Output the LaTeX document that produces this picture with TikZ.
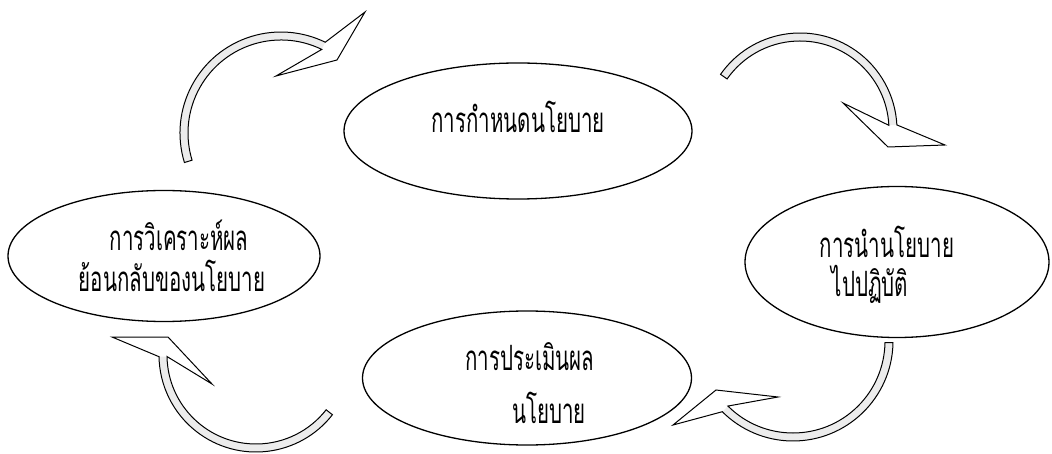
\documentclass[tikz,border=0pt]{standalone}
\usepackage{fontspec}
\newfontfamily\thaifont[Script=Thai]{Loma}
\usetikzlibrary{shapes.geometric,calc}
\newcommand\tallthai[1]{\scalebox{1}[1.7]{#1}}
\begin{document}
\begin{tikzpicture}[x=1pt,y=-1pt,
  bubble/.style={ellipse, draw=black, line width=1.3pt, inner sep=0pt, fill=white},
  thai/.style={font=\thaifont\fontsize{20.5}{24}\selectfont, anchor=base, inner sep=0pt},
  bandfill/.style={fill=gray!15, draw=none},
  arrowline/.style={draw=black, line width=1pt, line join=miter}]
\useasboundingbox (0,0) rectangle (1052,454);

% ellipses
\node[bubble, minimum width=348pt, minimum height=136pt] (plan) at (518,131) {};
\node[bubble, minimum width=312pt, minimum height=131pt] (feedback) at (164,256) {};
\node[bubble, minimum width=304pt, minimum height=151pt] (implement) at (897,262) {};
\node[bubble, minimum width=329pt, minimum height=134pt] (evaluate) at (527,378) {};

% texts
\node[thai] (t1) at (518,133) {\tallthai{การกำหนดนโยบาย}};
\node[thai] (t2a) at (179,251) {\tallthai{การวิเคราะห์ผล}};
\node[thai] (t2b) at (172,291) {\tallthai{ย้อนกลับของนโยบาย}};
\node[thai] (t3a) at (887,258) {\tallthai{การนำนโยบาย}};
\node[thai] (t3b) at (870,297) {\tallthai{ไปปฏิบัติ}};
\node[thai] (t4a) at (530,370) {\tallthai{การประเมินผล}};
\node[thai] (t4b) at (549,423) {\tallthai{นโยบาย}};

% arrow centres
\coordinate (c1) at (281,133);
\coordinate (c2) at (800,130);
\coordinate (c3) at (793,341);
\coordinate (c4) at (256,355);

% arrow 1 : feedback -> plan
\fill[bandfill] ($(c1)+(163:101)$) arc[start angle=163,end angle=296,radius=101]
  -- ($(c1)+(296:93)$) arc[start angle=296,end angle=163,radius=93] -- cycle;
\draw[arrowline] ($(c1)+(163:101)$) arc[start angle=163,end angle=296,radius=101]
  -- (365,12) -- (337,60) -- (276,76)
  -- ($(c1)+(296:93)$) arc[start angle=296,end angle=163,radius=93] -- cycle;

% arrow 2 : plan -> implement
\fill[bandfill] ($(c2)+(215:97)$) arc[start angle=215,end angle=357,radius=97]
  -- ($(c2)+(357:89)$) arc[start angle=357,end angle=215,radius=89] -- cycle;
\draw[arrowline] ($(c2)+(215:97)$) arc[start angle=215,end angle=357,radius=97]
  -- (945,145) -- (888,147) -- (843,103)
  -- ($(c2)+(357:89)$) arc[start angle=357,end angle=215,radius=89] -- cycle;

% arrow 3 : implement -> evaluate
\fill[bandfill] ($(c3)+(1:100)$) arc[start angle=1,end angle=135,radius=100]
  -- ($(c3)+(135:92)$) arc[start angle=135,end angle=1,radius=92] -- cycle;
\draw[arrowline] ($(c3)+(1:100)$) arc[start angle=1,end angle=135,radius=100]
  -- (673,425) -- (716,390) -- (778,397)
  -- ($(c3)+(135:92)$) arc[start angle=135,end angle=1,radius=92] -- cycle;

% arrow 4 : evaluate -> feedback
\fill[bandfill] ($(c4)+(38:97)$) arc[start angle=38,end angle=179,radius=97]
  -- ($(c4)+(179:89)$) arc[start angle=179,end angle=38,radius=89] -- cycle;
\draw[arrowline] ($(c4)+(38:97)$) arc[start angle=38,end angle=179,radius=97]
  -- (112,337) -- (168,337) -- (212,384)
  -- ($(c4)+(179:89)$) arc[start angle=179,end angle=38,radius=89] -- cycle;
\end{tikzpicture}
\end{document}
